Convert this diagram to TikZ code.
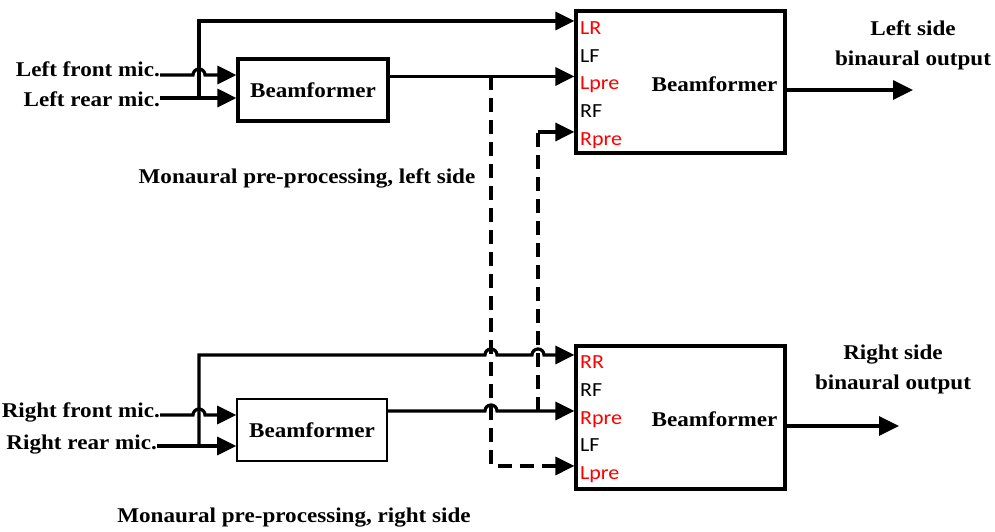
\documentclass[tikz,border=0pt]{standalone}
\usepackage{fontspec}
\setmainfont{Liberation Serif}
\newfontfamily\capfont[FakeStretch=1.1]{Liberation Serif}
\newfontfamily\portfont[FakeStretch=1.1]{Carlito}
\usetikzlibrary{arrows.meta}

\begin{document}
\begin{tikzpicture}[x=1pt, y=-1pt,
    wire/.style={line width=3.2pt},
    feed/.style={wire, -{Triangle[length=19pt, width=18pt]}},
    outfeed/.style={wire, -{Triangle[length=20pt, width=19pt]}},
    dashwire/.style={wire, dash pattern=on 14pt off 8pt},
    block/.style={draw, line width=3.2pt, inner sep=0pt, font=\capfont\bfseries\fontsize{21}{25}\selectfont},
    caption/.style={inner sep=0pt, font=\capfont\bfseries\fontsize{21}{30}\selectfont},
    port/.style={inner sep=0pt, anchor=base west, font=\portfont\fontsize{20}{22}\selectfont}]

    % Define colours
    \definecolor{portRed}{HTML}{FF0000}

    % Fix picture size
    \useasboundingbox (0,0) rectangle (995,531);

    % Draw beamformer blocks
    \node[block, minimum width=150pt, minimum height=62pt] (bfL) at (313,90) {Beamformer};
    \node[block, line width=1.6pt, minimum width=150pt, minimum height=62pt] (bfR) at (312,430) {Beamformer};
    \node[block, minimum width=209pt, minimum height=142pt] (binL) at (680.5,82) {};
    \node[block, minimum width=209pt, minimum height=143pt] (binR) at (680.5,417.5) {};
    \node[caption, anchor=base] (binLtxt) at (714.5,91) {Beamformer};
    \node[caption, anchor=base] (binRtxt) at (714.5,426) {Beamformer};

    % Port labels of the binaural blocks
    \foreach \lbl/\yy/\col [count=\i] in {LR/34/portRed, LF/62/black, Lpre/89.5/portRed, RF/117/black, Rpre/145/portRed}
        \node[port, text=\col] (pL\i) at (580,\yy) {\lbl};
    \foreach \lbl/\yy/\col [count=\i] in {RR/368/portRed, RF/396/black, Rpre/424/portRed, LF/451/black, Lpre/479/portRed}
        \node[port, text=\col] (pR\i) at (580,\yy) {\lbl};

    % Microphone labels
    \node[caption, anchor=base east] (micLF) at (160,76) {Left front mic.};
    \node[caption, anchor=base east] (micLR) at (160,106) {Left rear mic.};
    \node[caption, anchor=base east] (micRF) at (160,417) {Right front mic.};
    \node[caption, anchor=base east] (micRR) at (157,449) {Right rear mic.};

    % Output labels and captions
    \node[caption, align=center, anchor=north] (outLtxt) at (913,21) {Left side\\binaural output};
    \node[caption, align=center, anchor=north] (outRtxt) at (893,345) {Right side\\binaural output};
    \node[caption, anchor=base] (capL) at (307,183) {Monaural pre-processing, left side};
    \node[caption, anchor=base] (capR) at (294,522) {Monaural pre-processing, right side};

    % Define inputs and taps
    \coordinate (inLF) at ([yshift=15pt]bfL.west);
    \coordinate (inLR) at ([yshift=-8pt]bfL.west);
    \coordinate (inRF) at ([yshift=15pt]bfR.west);
    \coordinate (inRR) at ([yshift=-16pt]bfR.west);
    \coordinate (tapL) at (199,0 |- inLR);
    \coordinate (tapR) at (199,0 |- inRR);
    \coordinate (tapLpre) at (491,0 |- pL3.north);
    \coordinate (tapRpre) at (538,0 |- pR3.north);
    \coordinate (endL) at (913,90);
    \coordinate (endR) at (899,426);

    % Left side wiring
    \coordinate (hopLF) at (tapL |- inLF);
    \draw[feed] (micLF.east |- inLF) -- ([xshift=-6pt]hopLF) arc[start angle=180, end angle=360, radius=6] -- (inLF);
    \draw[feed] (micLR.east |- inLR) -- (inLR);
    \draw[feed] (tapL) -- (tapL |- pL1.north) -- (binL.west |- pL1.north);
    \draw[feed] (bfL.east |- pL3.north) -- (binL.west |- pL3.north);
    \draw[outfeed] (binL.east |- endL) -- (endL);

    % Right side wiring
    \coordinate (hopRF) at (tapR |- inRF);
    \coordinate (hopRR1) at (tapLpre |- pR1.north);
    \coordinate (hopRR2) at (tapRpre |- pR1.north);
    \coordinate (hopRpre) at (tapLpre |- pR3.north);
    \draw[feed] (micRF.east |- inRF) -- ([xshift=-6pt]hopRF) arc[start angle=180, end angle=360, radius=6] -- (inRF);
    \draw[feed] (micRR.east |- inRR) -- (inRR);
    \draw[feed] (tapR) -- (tapR |- pR1.north) -- ([xshift=-6pt]hopRR1) arc[start angle=180, end angle=360, radius=6]
        -- ([xshift=-6pt]hopRR2) arc[start angle=180, end angle=360, radius=6] -- (binR.west |- pR1.north);
    \draw[feed] (bfR.east |- pR3.north) -- ([xshift=-6pt]hopRpre) arc[start angle=180, end angle=360, radius=6] -- (binR.west |- pR3.north);
    \draw[outfeed] (binR.east |- endR) -- (endR);

    % Cross feeds between the sides
    \draw[dashwire, -{Triangle[length=19pt, width=18pt]}] (tapLpre) -- (tapLpre |- pR5.north) -- (binR.west |- pR5.north);
    \draw[dashwire] (tapRpre) -- (tapRpre |- pL5.north);
    \draw[feed] (tapRpre |- pL5.north) -- (binL.west |- pL5.north);

\end{tikzpicture}
\end{document}
